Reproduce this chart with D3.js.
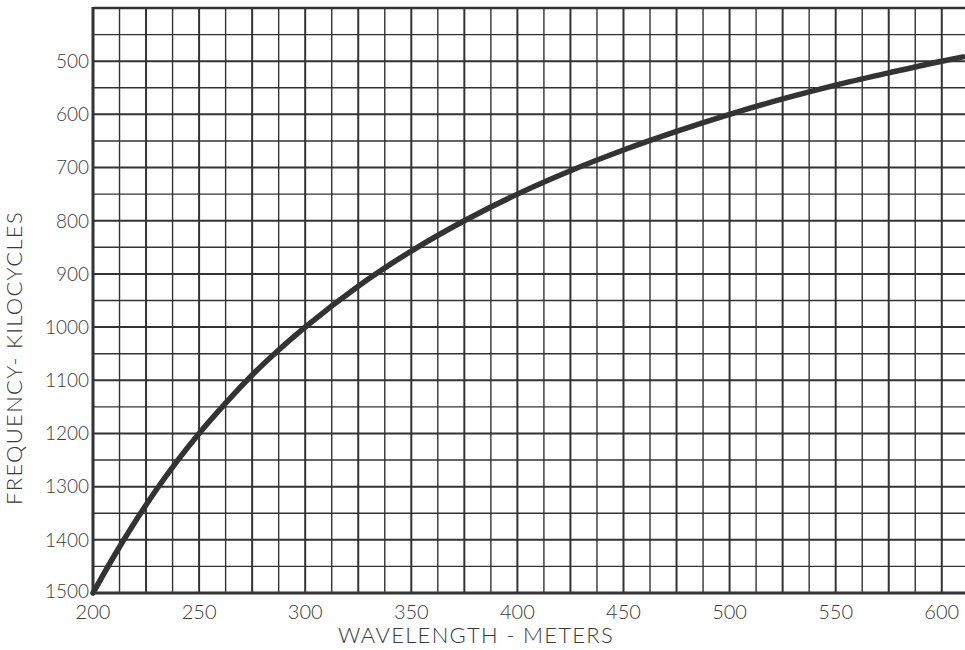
<!DOCTYPE html>
<html>
<head>
    <meta charset="utf-8">
    <style>
        body { margin: 0; background: white; }
        svg { display: block; font-family: Lato, 'Liberation Sans', Arial, sans-serif; }
        .tick-label { fill: #3a3a3a; font-size: 20px; font-weight: 300; }
        .y-label { font-size: 19px; }
        .axis-title { fill: #3a3a3a; font-size: 22px; font-weight: 300; letter-spacing: 1.3px; }
    </style>
</head>
<body>
    <svg width="965" height="650"></svg>

<script src="https://d3js.org/d3.v7.min.js"></script>
<script>
    // values (wavelength in meters, frequency in kc)
    let wavelengths = [200, 210, 220, 230, 240, 250, 262.5, 275, 287.5, 300, 325, 350, 375, 400, 425, 450, 475, 500, 525, 550, 575, 600, 610];
    let frequencies = [1500, 1430, 1365, 1305, 1250, 1200, 1143, 1090, 1043, 1000, 923, 857, 800, 750, 706, 667, 632, 600, 571, 545, 522, 500, 492];

    let xTicks = [200, 250, 300, 350, 400, 450, 500, 550, 600];
    let yTicks = [500, 600, 700, 800, 900, 1000, 1100, 1200, 1300, 1400, 1500];
    let xGrid = d3.range(200, 612, 12.5);
    let yGrid = d3.range(400, 1501, 50);

    let svg = d3.select("svg");

    let plot = {left: 93, right: 963, top: 8, bottom: 593};

    let x = d3.scaleLinear().domain([200, 610]).range([plot.left, plot.right]);
    let y = d3.scaleLinear().domain([400, 1500]).range([plot.top, plot.bottom]);

    let grid = svg.append("g").attr("stroke", "#333");

    grid.selectAll(".v")
        .data(xGrid)
        .join("line")
        .attr("class", "v")
        .attr("x1", d => x(d)).attr("x2", d => x(d))
        .attr("y1", plot.top).attr("y2", plot.bottom)
        .attr("stroke-width", d => d % 25 == 0 ? 2 : 1.4);

    grid.selectAll(".h")
        .data(yGrid)
        .join("line")
        .attr("class", "h")
        .attr("x1", plot.left).attr("x2", 965)
        .attr("y1", d => y(d)).attr("y2", d => y(d))
        .attr("stroke-width", d => d % 100 == 0 ? 2 : 1.4);

    // heavier frame on left, top and bottom
    grid.append("line").attr("x1", plot.left).attr("x2", plot.left).attr("y1", plot.top - 1).attr("y2", plot.bottom + 1).attr("stroke-width", 3);
    grid.append("line").attr("x1", plot.left).attr("x2", 965).attr("y1", plot.top).attr("y2", plot.top).attr("stroke-width", 2.6);
    grid.append("line").attr("x1", plot.left).attr("x2", 965).attr("y1", plot.bottom).attr("y2", plot.bottom).attr("stroke-width", 3);

    // curve
    let pts = wavelengths.map((w, i) => [w, frequencies[i]]);
    let line = d3.line()
        .x(d => x(d[0]))
        .y(d => y(d[1]))
        .curve(d3.curveMonotoneX);

    svg.append("path")
        .datum(pts)
        .attr("d", line)
        .attr("fill", "none")
        .attr("stroke", "#333")
        .attr("stroke-width", 5.5)
        .attr("stroke-linecap", "round");

    // tick labels
    svg.append("g").selectAll("text")
        .data(yTicks)
        .join("text")
        .attr("class", "tick-label y-label")
        .attr("x", 89)
        .attr("y", d => y(d) - (d == 1500 ? 2 : 0))
        .attr("dy", "0.36em")
        .attr("text-anchor", "end")
        .text(d => d);

    svg.append("g").selectAll("text")
        .data(xTicks)
        .join("text")
        .attr("class", "tick-label")
        .attr("x", d => x(d))
        .attr("y", 619)
        .attr("text-anchor", "middle")
        .text(d => d);

    svg.append("text")
        .attr("class", "axis-title")
        .attr("x", 476)
        .attr("y", 643)
        .attr("text-anchor", "middle")
        .text("WAVELENGTH - METERS");

    svg.append("text")
        .attr("class", "axis-title")
        .attr("transform", "translate(22,358) rotate(-90)")
        .attr("text-anchor", "middle")
        .text("FREQUENCY- KILOCYCLES");
</script>
</body>
</html>
